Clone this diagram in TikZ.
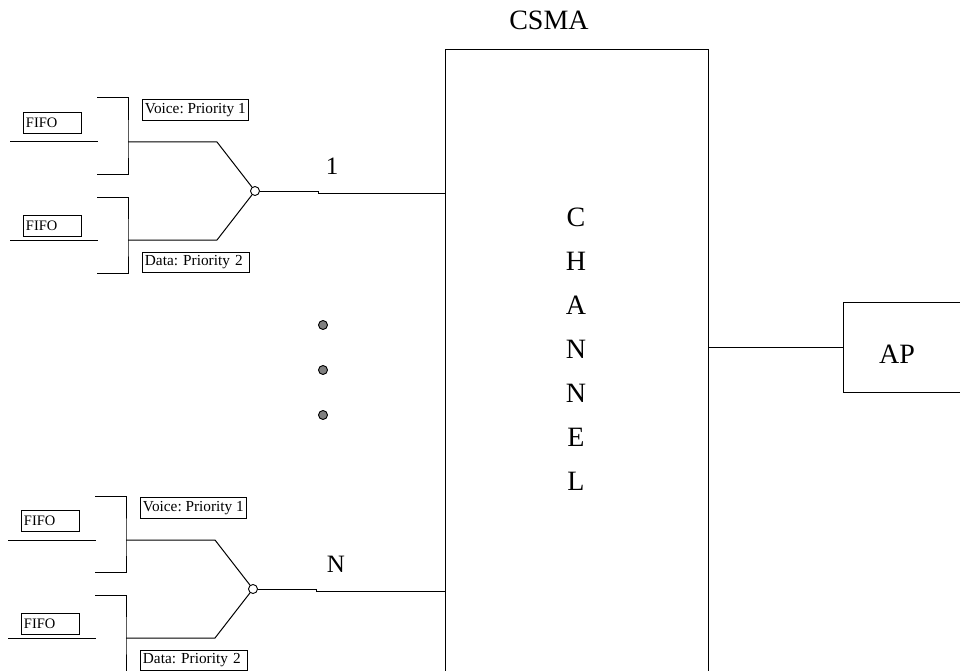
\documentclass[tikz,border=0pt]{standalone}
\usepackage{fontspec}
\setmainfont{Liberation Serif}
\frenchspacing
\newcommand\titlefont{\fontsize{28bp}{32bp}\selectfont}
\newcommand\midfont{\fontsize{25bp}{29bp}\selectfont}
\newcommand\tagfont{\fontsize{15.3bp}{18bp}\selectfont}
\newcommand\fifofont{\fontsize{14.5bp}{17bp}\selectfont}
\begin{document}
\begin{tikzpicture}[x=1bp, y=-1bp, line width=1bp,
  every node/.style={inner sep=0pt},
  tagbox/.style={draw, line width=0.9bp, font=\tagfont, anchor=north west,
    inner xsep=2.5bp, inner ysep=0pt, minimum height=21bp},
  fifobox/.style={tagbox, font=\fifofont, text width=53bp, align=left},
  switchpt/.style={circle, draw, line width=0.9bp, fill=white, minimum size=9bp},
  dotmark/.style={circle, draw, line width=0.9bp, fill=black!50, minimum size=9bp},
  bigbox/.style={draw, line width=1.1bp, anchor=north west}
]
\clip (0,0) rectangle (960,671);
\fill[white] (0,0) rectangle (960,671);

% shared medium
\node[font=\titlefont] (csma) at (549,20) {CSMA};
\node[bigbox, minimum width=263bp, minimum height=700bp] (chan) at (445,49) {};
\foreach \l [count=\i] in {C,H,A,N,N,E,L}
  \node[font=\titlefont] (ch\i) at (576,{217+44*(\i-1)}) {\l};

% access point
\node[bigbox, minimum width=200bp, minimum height=90bp] (ap) at (843,302) {};
\node[font=\titlefont] (aplabel) at (897,354) {AP};
\draw (ap.west) -- (ap.west -| chan.east);

% stations 2 .. N-1 omitted
\foreach \y [count=\i] in {325,370,415}
  \node[dotmark] (dot\i) at (323,\y) {};

% one station: two priority queues feeding a switch
\foreach \g/\cx/\cy/\lab/\lx in {1/255/191/1/332, 2/253/589/N/336} {
  \node[switchpt] (sw\g) at (\cx,\cy) {};

  % voice queue
  \node[fifobox] (fifoA\g) at (\cx-232,\cy-79) {FIFO};
  \coordinate (qa\g) at (\cx-245,\cy-49);
  \coordinate (qb\g) at (\cx-157,\cy-49);
  \draw (qa\g) -- (qb\g);
  \coordinate (ua\g) at (\cx-158,\cy-93);
  \coordinate (uj\g) at (\cx-127,\cy-49);
  \coordinate (ub\g) at (\cx-158,\cy-17);
  \coordinate (uk\g) at (\cx-38,\cy-49);
  \draw (ua\g) -| (uj\g) |- (ub\g);
  \draw (uj\g) -- (uk\g) -- (sw\g);
  \node[tagbox] (voice\g) at (\cx-113,\cy-92) {Voice: Priority 1};

  % data queue
  \node[fifobox] (fifoB\g) at (\cx-232,\cy+24) {FIFO};
  \coordinate (qc\g) at (\cx-245,\cy+49);
  \coordinate (qd\g) at (\cx-157,\cy+49);
  \draw (qc\g) -- (qd\g);
  \coordinate (la\g) at (\cx-158,\cy+6);
  \coordinate (lj\g) at (\cx-127,\cy+49);
  \coordinate (lb\g) at (\cx-158,\cy+82);
  \coordinate (lk\g) at (\cx-38,\cy+49);
  \draw (la\g) -| (lj\g) |- (lb\g);
  \draw (lj\g) -- (lk\g) -- (sw\g);
  \node[tagbox, minimum height=20bp, text width=102bp, align=left] (data\g) at (\cx-113,\cy+61) {Data: Priority 2};

  % station output to the channel
  \coordinate (jog\g) at (\cx+63,\cy);
  \draw (sw\g) -- (jog\g) -- ([yshift=-2bp]jog\g) -- ([yshift=-2bp]jog\g -| chan.west);
  \node[font=\midfont] (lab\g) at (\lx,\cy-25) {\lab};
}
\end{tikzpicture}
\end{document}
